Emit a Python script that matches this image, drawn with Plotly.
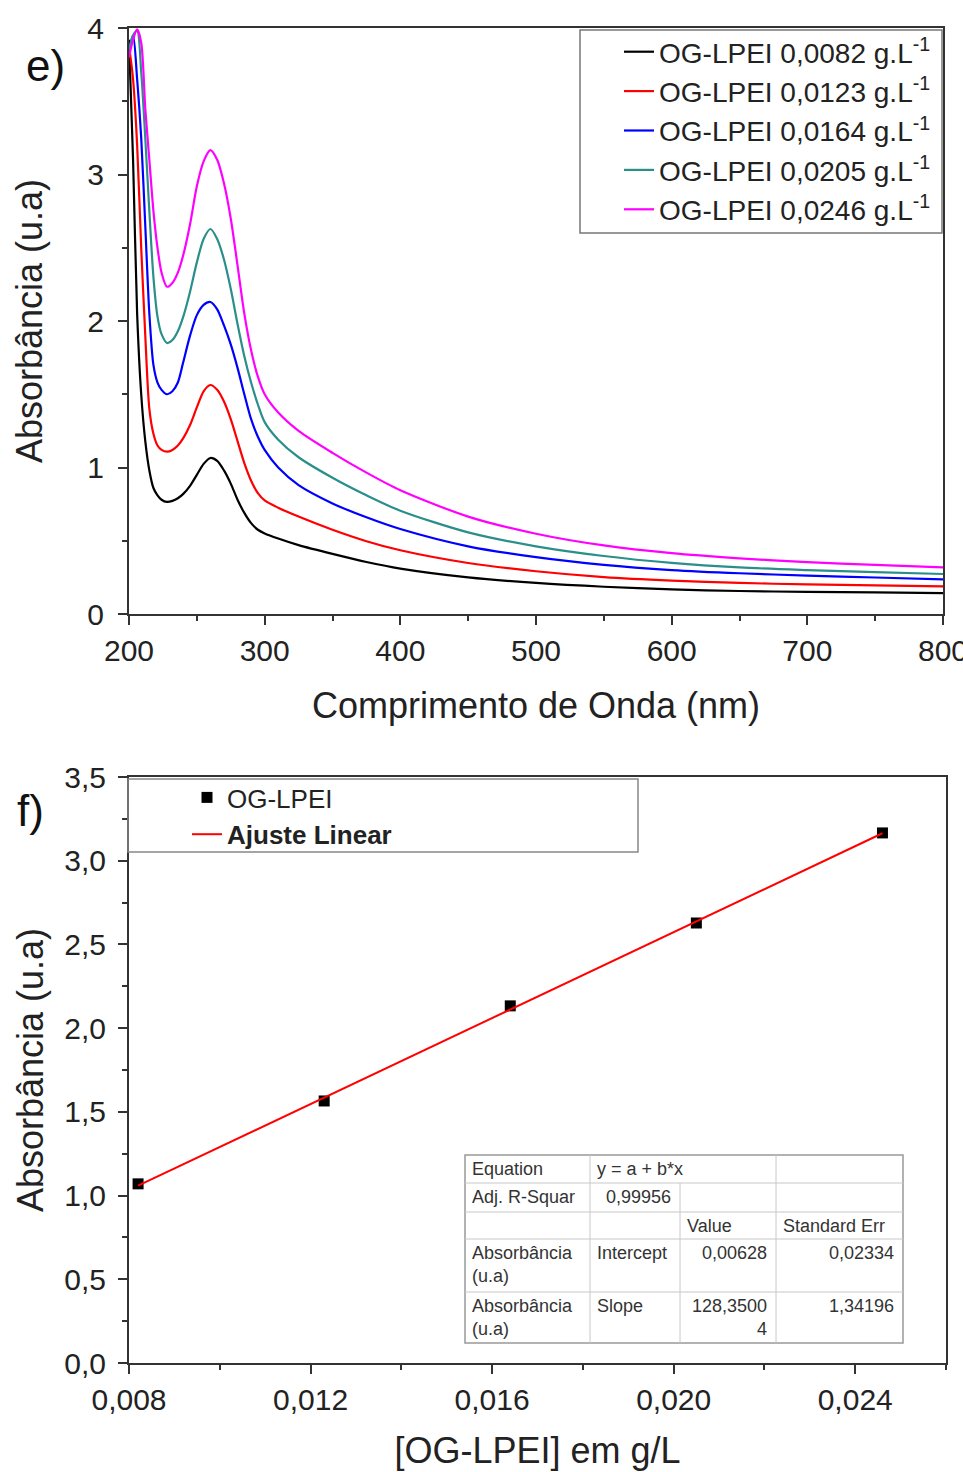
import plotly.graph_objects as go

# ---------------- data ----------------
wavelength = [200, 203, 206, 209, 212, 215, 218, 221, 224, 228, 232, 236, 240, 245, 250, 255, 260,
              265, 270, 275, 280, 285, 290, 295, 300, 310, 325, 350, 375, 400, 450, 500,
              550, 600, 650, 700, 750, 800]

abs_0082 = [3.92, 3.10, 2.05, 1.50, 1.18, 0.98, 0.86, 0.81, 0.78, 0.765, 0.772, 0.79, 0.82, 0.875, 0.95, 1.025, 1.065,
            1.045, 0.98, 0.89, 0.78, 0.69, 0.62, 0.575, 0.55, 0.515, 0.47, 0.41, 0.355, 0.31, 0.25, 0.212,
            0.186, 0.168, 0.157, 0.151, 0.147, 0.143]
abs_0123 = [3.88, 3.65, 3.20, 2.50, 1.90, 1.40, 1.23, 1.15, 1.12, 1.108, 1.12, 1.15, 1.20, 1.29, 1.41, 1.52, 1.563,
            1.53, 1.45, 1.33, 1.18, 1.03, 0.91, 0.825, 0.775, 0.725, 0.665, 0.575, 0.497, 0.435, 0.348, 0.292,
            0.252, 0.228, 0.212, 0.202, 0.195, 0.189]
abs_0164 = [3.85, 3.95, 3.65, 3.25, 2.65, 2.05, 1.70, 1.58, 1.53, 1.50, 1.52, 1.58, 1.72, 1.90, 2.04, 2.11, 2.13,
            2.08, 1.97, 1.84, 1.68, 1.50, 1.33, 1.21, 1.12, 1.00, 0.88, 0.755, 0.66, 0.58, 0.462, 0.388,
            0.335, 0.300, 0.278, 0.262, 0.249, 0.237]
abs_0205 = [3.85, 3.95, 3.98, 3.70, 3.25, 2.75, 2.30, 2.03, 1.91, 1.85, 1.87, 1.93, 2.03, 2.20, 2.40, 2.56, 2.628,
            2.56, 2.42, 2.22, 1.98, 1.76, 1.58, 1.43, 1.31, 1.19, 1.07, 0.93, 0.81, 0.705, 0.557, 0.462,
            0.396, 0.349, 0.318, 0.300, 0.286, 0.273]
abs_0246 = [3.80, 3.92, 3.99, 3.90, 3.45, 3.10, 2.75, 2.50, 2.33, 2.234, 2.26, 2.33, 2.45, 2.66, 2.92, 3.09, 3.166,
            3.10, 2.94, 2.70, 2.38, 2.05, 1.80, 1.62, 1.50, 1.375, 1.25, 1.10, 0.965, 0.845, 0.665, 0.548,
            0.468, 0.415, 0.380, 0.354, 0.335, 0.318]

series_names = ["OG-LPEI 0,0082 g.L<sup>-1</sup>", "OG-LPEI 0,0123 g.L<sup>-1</sup>",
                "OG-LPEI 0,0164 g.L<sup>-1</sup>", "OG-LPEI 0,0205 g.L<sup>-1</sup>",
                "OG-LPEI 0,0246 g.L<sup>-1</sup>"]

conc = [0.0082, 0.0123, 0.0164, 0.0205, 0.0246]
peak_abs = [1.07, 1.565, 2.133, 2.628, 3.166]
fit_x = [0.0082, 0.0246]
fit_y = [1.059, 3.164]

table_rows = [
    ["Equation", "y = a + b*x", "", ""],
    ["Adj. R-Squar", "0,99956", "", ""],
    ["", "", "Value", "Standard Err"],
    ["Absorbância<br>(u.a)", "Intercept", "0,00628", "0,02334"],
    ["Absorbância<br>(u.a)", "Slope", "128,3500<br>4", "1,34196"],
]

# ---------------- layout helpers ----------------
W, H = 963, 1472
FONT = "Arial, Liberation Sans, sans-serif"
AX = "#333333"


def px(x):
    return x / W


def py(y):
    return 1 - y / H


colors = ["#000000", "#ff0000", "#0000ff", "#2a8f8a", "#ff00ff"]
spectra = [abs_0082, abs_0123, abs_0164, abs_0205, abs_0246]

fig = go.Figure()
for name, ys, c in zip(series_names, spectra, colors):
    fig.add_trace(go.Scatter(x=wavelength, y=ys, mode="lines", name=name,
                             line=dict(color=c, width=2.2, shape="spline", smoothing=0.8),
                             xaxis="x", yaxis="y", legend="legend", cliponaxis=True))

fig.add_trace(go.Scatter(x=conc, y=peak_abs, mode="markers", name="OG-LPEI",
                         marker=dict(symbol="square", color="black", size=11),
                         xaxis="x2", yaxis="y2", legend="legend2"))
fig.add_trace(go.Scatter(x=fit_x, y=fit_y, mode="lines", name="<b>Ajuste Linear</b>",
                         line=dict(color="#ff0000", width=2),
                         xaxis="x2", yaxis="y2", legend="legend2"))

tickfont = dict(family=FONT, size=30, color="#222")
titlefont = dict(family=FONT, size=36, color="#222")


def main_axis(**kw):
    d = dict(showline=True, linewidth=2, linecolor=AX, mirror=True, showgrid=False, zeroline=False,
             ticks="outside", ticklen=9, tickwidth=2, tickcolor=AX, tickfont=tickfont, automargin=False,
             ticklabeloverflow="allow")
    d.update(kw)
    return d


def inner_axis(**kw):
    d = dict(showline=False, showgrid=False, zeroline=False, ticks="inside", ticklen=9,
             tickwidth=2, tickcolor=AX, showticklabels=False, automargin=False)
    d.update(kw)
    return d


top_x_dom = [px(129), px(943)]
top_y_dom = [py(614), py(28)]
bot_x_dom = [px(129), px(946)]
bot_y_dom = [py(1363), py(777)]

fig.update_layout(
    width=W, height=H, margin=dict(l=0, r=0, t=0, b=0, autoexpand=False),
    paper_bgcolor="white", plot_bgcolor="white", separators=", ",
    font=dict(family=FONT, color="#222"),
    xaxis=main_axis(domain=top_x_dom, anchor="y", range=[200, 800], tick0=200, dtick=100,
                    minor=dict(dtick=50, ticks="outside", ticklen=5, tickwidth=1.5, tickcolor=AX),
                    title=dict(text="Comprimento de Onda (nm)", font=titlefont, standoff=27)),
    yaxis=main_axis(domain=top_y_dom, anchor="x", range=[0, 4], tick0=0, dtick=1, ticklabelstandoff=8,
                    minor=dict(dtick=0.5, ticks="outside", ticklen=5, tickwidth=1.5, tickcolor=AX),
                    title=dict(text="Absorbância (u.a)", font=titlefont, standoff=34)),
    xaxis3=inner_axis(overlaying="x", side="top", anchor="y", range=[200, 800], tick0=200, dtick=100,
                      minor=dict(dtick=50, ticks="inside", ticklen=5, tickwidth=1.5, tickcolor=AX)),
    yaxis3=inner_axis(overlaying="y", side="right", anchor="x", range=[0, 4], tick0=0, dtick=1,
                      minor=dict(dtick=0.5, ticks="inside", ticklen=5, tickwidth=1.5, tickcolor=AX)),
    xaxis2=main_axis(domain=bot_x_dom, anchor="y2", range=[0.008, 0.026], tick0=0.008, dtick=0.004,
                     tickformat=".3f",
                     minor=dict(dtick=0.002, ticks="outside", ticklen=5, tickwidth=1.5, tickcolor=AX),
                     title=dict(text="[OG-LPEI] em g/L", font=titlefont, standoff=23)),
    yaxis2=main_axis(domain=bot_y_dom, anchor="x2", range=[0, 3.5], tick0=0, dtick=0.5, tickformat=".1f",
                     ticklabelstandoff=6,
                     minor=dict(dtick=0.25, ticks="outside", ticklen=5, tickwidth=1.5, tickcolor=AX),
                     title=dict(text="Absorbância (u.a)", font=titlefont, standoff=10)),
    xaxis4=inner_axis(overlaying="x2", side="top", anchor="y2", range=[0.008, 0.026], tick0=0.008,
                      dtick=0.004,
                      minor=dict(dtick=0.002, ticks="inside", ticklen=5, tickwidth=1.5, tickcolor=AX)),
    yaxis4=inner_axis(overlaying="y2", side="right", anchor="x2", range=[0, 3.5], tick0=0, dtick=0.5,
                      minor=dict(dtick=0.25, ticks="inside", ticklen=5, tickwidth=1.5, tickcolor=AX)),
    legend=dict(x=px(619), y=py(27), xanchor="left", yanchor="top", bgcolor="rgba(0,0,0,0)",
                borderwidth=0, font=dict(family=FONT, size=28, color="#222"), tracegroupgap=0),
    legend2=dict(x=px(187), y=py(774), xanchor="left", yanchor="top", bgcolor="rgba(0,0,0,0)",
                 borderwidth=0, font=dict(family=FONT, size=26, color="#222"), tracegroupgap=0),
)

shapes = []
# legend frames
shapes.append(dict(type="rect", xref="paper", yref="paper", x0=px(580), x1=px(942), y0=py(233), y1=py(30),
                   line=dict(color="#777", width=1.5), fillcolor="white", layer="below"))
shapes.append(dict(type="rect", xref="paper", yref="paper", x0=px(128), x1=px(638), y0=py(852), y1=py(779),
                   line=dict(color="#888", width=1.5), fillcolor="rgba(0,0,0,0)", layer="above"))

# results table
col_x = [465, 590, 680, 776, 903]
row_y = [1155, 1183, 1212, 1239, 1292, 1343]
shapes.append(dict(type="rect", xref="paper", yref="paper", x0=px(col_x[0]), x1=px(col_x[-1]),
                   y0=py(row_y[-1]), y1=py(row_y[0]), line=dict(color="#999", width=1.5),
                   fillcolor="white", layer="above"))
for yy in row_y[1:-1]:
    shapes.append(dict(type="line", xref="paper", yref="paper", x0=px(col_x[0]), x1=px(col_x[-1]),
                       y0=py(yy), y1=py(yy), line=dict(color="#c8c8c8", width=1), layer="above"))
for i, xx in enumerate(col_x[1:-1]):
    top = row_y[1] if i == 1 else row_y[0]
    shapes.append(dict(type="line", xref="paper", yref="paper", x0=px(xx), x1=px(xx),
                       y0=py(row_y[-1]), y1=py(top), line=dict(color="#c8c8c8", width=1), layer="above"))
fig.update_layout(shapes=shapes)

annotations = []
tfont = dict(family=FONT, size=18, color="#333")
right_cols = {(1, 1), (3, 2), (3, 3), (4, 2), (4, 3)}
for r, row in enumerate(table_rows):
    for c, txt in enumerate(row):
        if not txt:
            continue
        if (r, c) in right_cols:
            xa, xanch = px(col_x[c + 1] - 7), "right"
        else:
            xa, xanch = px(col_x[c] + 5), "left"
        annotations.append(dict(x=xa, y=py(row_y[r] + 2), xref="paper", yref="paper", text=txt,
                                showarrow=False, xanchor=xanch, yanchor="top", align=xanch,
                                font=tfont))

annotations.append(dict(x=px(45), y=py(65), xref="paper", yref="paper", text="e)", showarrow=False,
                        xanchor="center", yanchor="middle", font=dict(family=FONT, size=44, color="#111")))
annotations.append(dict(x=px(30), y=py(810), xref="paper", yref="paper", text="f)", showarrow=False,
                        xanchor="center", yanchor="middle", font=dict(family=FONT, size=44, color="#111")))
fig.update_layout(annotations=annotations)

fig.write_html("out.html")
